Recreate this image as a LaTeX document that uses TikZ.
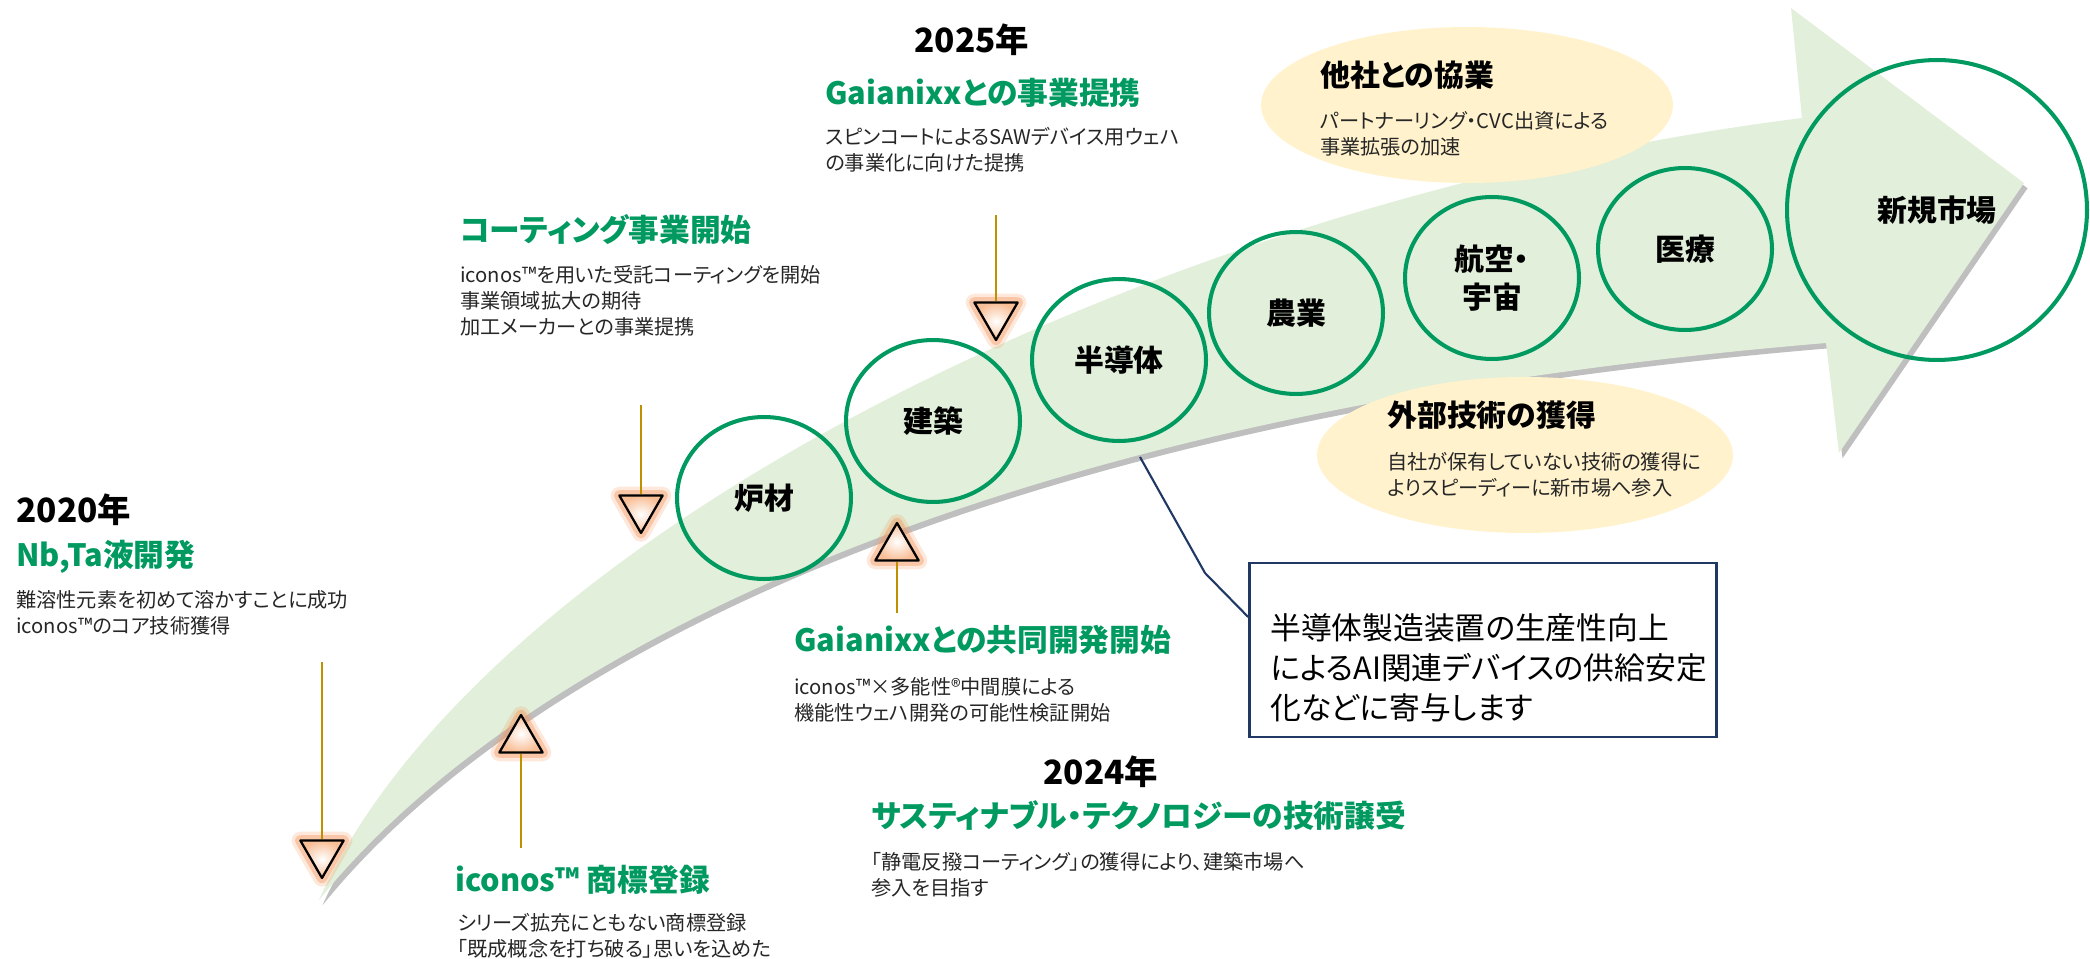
\documentclass[tikz,border=0pt]{standalone}
\usepackage{fontspec}
\setmainfont{Noto Sans CJK JP}[RawFeature={+palt}]
\usetikzlibrary{shapes.geometric, shadows}
\definecolor{brandgreen}{RGB}{0,153,96}
\definecolor{bandgreen}{RGB}{226,239,218}
\definecolor{cream}{RGB}{255,242,204}
\definecolor{gold}{RGB}{191,144,0}
\definecolor{navy}{RGB}{31,56,100}
\definecolor{glow}{RGB}{244,150,90}
\definecolor{peach}{RGB}{248,190,150}

\begin{document}
\begin{tikzpicture}[x=0.02cm, y=-0.02cm,
    year/.style={inner sep=0pt, font=\fontsize{19}{22}\selectfont\bfseries},
    head/.style={anchor=west, inner sep=0pt, text=brandgreen, font=\fontsize{17.5}{20}\selectfont\bfseries},
    body/.style={anchor=west, inner sep=0pt, align=left, text=black!85, font=\fontsize{11.5}{14.7}\selectfont},
    stage/.style={ellipse, draw=brandgreen, line width=2.3pt, minimum width=3.48cm, minimum height=3.24cm,
      align=center, font=\fontsize{17}{21.5}\selectfont\bfseries},
    bubble/.style={ellipse, fill=cream, minimum height=3.12cm},
    bubhead/.style={anchor=west, inner sep=0pt, font=\fontsize{17}{20}\selectfont\bfseries},
    tri/.style={regular polygon, regular polygon sides=3, minimum size=1cm, inner sep=0pt,
      draw=black, line width=1.3pt, line join=round, inner color=white, outer color=peach,
      preaction={draw=glow, line width=10pt, opacity=0.22},
      preaction={draw=glow, line width=6pt, opacity=0.4}},
    tridown/.style={tri, shape border rotate=180},
    pin/.style={draw=gold, line width=0.9pt},
    notebox/.style={draw=navy, line width=1.6pt, fill=white, minimum width=9.34cm, minimum height=3.48cm},
    notetext/.style={anchor=west, inner sep=0pt, align=left, font=\fontsize{17.5}{22.7}\selectfont}]
    \useasboundingbox (0,0) rectangle (2090,959);
    % Arrow band
    \fill[bandgreen, drop shadow={shadow xshift=2pt, shadow yshift=-3pt, fill=black, opacity=0.25}]
      (319,900) .. controls (480,540) and (1150,200) .. (1802,118) -- (1791,8) -- (2024,183)
      -- (1839,453) -- (1826,343) .. controls (900,420) and (480,700) .. (319,900) -- cycle;
    % Bubbles
    \node[bubble, minimum width=8.24cm] (collab) at (1467,105) {};
    \node[bubble, minimum width=8.32cm] (acquire) at (1525,455) {};
    \node[bubhead] (collabhead) at (1320,75) {他社との協業};
    \node[body] (collabbody) at (1320,134) {パートナーリング・CVC出資による\\事業拡張の加速};
    \node[bubhead] (acqhead) at (1387,415) {外部技術の獲得};
    \node[body] (acqbody) at (1387,475) {自社が保有していない技術の獲得に\\よりスピーディーに新市場へ参入};
    % Stages
    \node[stage] (furnace) at (764,498) {炉材};
    \node[stage] (build) at (933,421) {建築};
    \node[stage] (semi) at (1119,360) {半導体};
    \node[stage] (agri) at (1296,313) {農業};
    \node[stage] (aero) at (1492,278) {航空・\\宇宙};
    \node[stage] (med) at (1685,249) {医療};
    \node[stage, minimum width=6cm, minimum height=6cm] (newmkt) at (1937,210) {新規市場};
    % Milestones
    \node[tridown] (t2020) at (322,853) {};
    \node[tri] (tmark) at (521,740) {};
    \node[tridown] (tcoat) at (641,508) {};
    \node[tri] (tjoint) at (897,548) {};
    \node[tridown] (t2025) at (996,315) {};
    \coordinate (p2020) at (322,662);
    \coordinate (pmark) at (521,848);
    \coordinate (pcoat) at (641,405);
    \coordinate (pjoint) at (897,613);
    \coordinate (p2025) at (996,215);
    \draw[pin] (p2020) -- (t2020.north);
    \draw[pin] (tmark.south) -- (pmark);
    \draw[pin] (pcoat) -- (tcoat.north);
    \draw[pin] (tjoint.south) -- (pjoint);
    \draw[pin] (p2025) -- (t2025.north);
    % Texts
    \node[year, anchor=west] (y2020) at (16,510) {2020年};
    \node[head] (h2020) at (16,557) {Nb,Ta液開発};
    \node[body] (b2020) at (16,613) {難溶性元素を初めて溶かすことに成功\\iconos™のコア技術獲得};
    \node[head] (hmark) at (455,880) {iconos™ 商標登録};
    \node[body] (bmark) at (457,936) {シリーズ拡充にともない商標登録\\「既成概念を打ち破る」思いを込めた};
    \node[head] (hcoat) at (460,230) {コーティング事業開始};
    \node[body] (bcoat) at (460,301) {iconos™を用いた受託コーティングを開始\\事業領域拡大の期待\\加工メーカーとの事業提携};
    \node[year] (y2025) at (972,40) {2025年};
    \node[head] (h2025) at (825,93) {Gaianixxとの事業提携};
    \node[body] (b2025) at (825,150) {スピンコートによるSAWデバイス用ウェハ\\の事業化に向けた提携};
    \node[head] (hjoint) at (794,640) {Gaianixxとの共同開発開始};
    \node[body] (bjoint) at (794,700) {iconos™×多能性®中間膜による\\機能性ウェハ開発の可能性検証開始};
    \node[year] (y2024) at (1101,772) {2024年};
    \node[head] (h2024) at (871,816) {サスティナブル・テクノロジーの技術譲受};
    \node[body] (b2024) at (871,875) {「静電反撥コーティング」の獲得により、建築市場へ\\参入を目指す};
    % Note box
    \node[notebox] (effect) at (1483,650) {};
    \node[notetext] (effecttext) at (1270,668) {半導体製造装置の生産性向上\\によるAI関連デバイスの供給安定\\化などに寄与します};
    \coordinate (lead) at (1140,457);
    \coordinate (bend) at (1205,573);
    \draw[navy, line width=1.2pt] (lead) -- (bend) -- (effect.172);
\end{tikzpicture}
\end{document}
